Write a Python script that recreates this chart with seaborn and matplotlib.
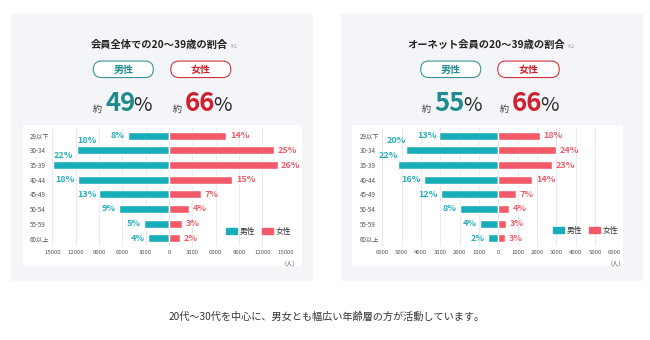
import matplotlib
matplotlib.use("Agg")
import matplotlib.pyplot as plt
from matplotlib.patches import FancyBboxPatch, Rectangle, Patch
import numpy as np
import pandas as pd
import seaborn as sns

# ---- data -------------------------------------------------------------
age_groups = ["29以下", "30-34", "35-39", "40-44", "45-49", "50-54", "55-59", "60以上"]
sexes = ["男性", "女性"]

# 会員全体（人）
all_men = [5300, 11850, 14850, 11750, 8950, 6450, 3200, 2700]
all_women = [7350, 13550, 13950, 8150, 4150, 2600, 1650, 1400]
all_men_pct = [8, 18, 22, 18, 13, 9, 5, 4]
all_women_pct = [14, 25, 26, 15, 7, 4, 3, 2]
all_share = [49, 66]

# オーネット会員（人）
onet_men = [3050, 4780, 5170, 3850, 2950, 1980, 950, 520]
onet_women = [2150, 2970, 2800, 1760, 930, 560, 400, 350]
onet_men_pct = [13, 20, 22, 16, 12, 8, 4, 2]
onet_women_pct = [18, 24, 23, 14, 7, 4, 3, 3]
onet_share = [55, 66]

# rows whose male label sits above the bar
label_lift = [False, True, True, False, False, False, False, False]

# ---- style ------------------------------------------------------------
W, H = 650, 340
TEAL = "#17adb9"
RED = "#f25a69"
TEAL_TXT = "#25b0bc"
RED_TXT = "#ec5f6b"
TEAL_BIG = "#1f8b8e"
RED_BIG = "#d11f2d"
PANEL_BG = "#f4f5f9"
GRID = "#e6e6e9"

sns.set_theme(style="white")
plt.rcParams["font.family"] = ["Noto Sans CJK JP", "DejaVu Sans"]

fig = plt.figure(figsize=(W / 100, H / 100), dpi=100)
fig.patch.set_facecolor("white")

# pixel-space canvas for backgrounds and headings
bg = fig.add_axes([0, 0, 1, 1], zorder=0)
bg.set_xlim(0, W)
bg.set_ylim(H, 0)
bg.axis("off")
renderer = fig.canvas.get_renderer()


def text_right(t):
    return t.get_window_extent(renderer=renderer).x1


def draw_panel(cfg):
    # panel and chart backgrounds
    x0, y0, x1, y1 = cfg["panel"]
    bg.add_patch(Rectangle((x0, y0), x1 - x0, y1 - y0, color=PANEL_BG, lw=0))
    x0, y0, x1, y1 = cfg["white"]
    bg.add_patch(Rectangle((x0, y0), x1 - x0, y1 - y0, color="white", lw=0))

    # heading
    t = bg.text(cfg["title_x"], 45, cfg["title"], ha="center", va="center",
                fontsize=7.4, fontweight="bold", color="#222222")
    bg.text(text_right(t) + 1.5, 46.5, cfg["note"], ha="left", va="center",
            fontsize=3.8, color="#9a9a9a")

    # pills
    for (cx, w), label, col in zip(cfg["pills"], sexes, ["#3a9698", "#cf3340"]):
        ph = 16.5
        bg.add_patch(FancyBboxPatch((cx - w / 2, 69.3 - ph / 2), w, ph,
                                    boxstyle=f"round,pad=0,rounding_size={ph / 2}",
                                    fc="white", ec=col, lw=0.8))
        bg.text(cx, 69.6, label, ha="center", va="center", fontsize=7.2,
                fontweight="bold", color=TEAL_BIG if label == "男性" else RED_BIG)

    # big shares
    for nx, val, col in zip(cfg["num_x"], cfg["share"], [TEAL_BIG, RED_BIG]):
        n = bg.text(nx, 111, f"{val}", ha="left", va="baseline", fontsize=18.5,
                    fontweight="bold", color=col)
        bg.text(nx - 3, 111.5, "約", ha="right", va="baseline", fontsize=6.5,
                color="#333333")
        bg.text(text_right(n) - 1.5, 111, "%", ha="left", va="baseline",
                fontsize=14.5, color="#2a2a2a")

    # chart axes
    l, t_, r, b = cfg["axes"]
    ax = fig.add_axes([l / W, 1 - b / H, (r - l) / W, (b - t_) / H], zorder=2)
    ax.set_facecolor("none")
    df = pd.DataFrame({
        "age": age_groups * 2,
        "sex": [sexes[0]] * len(age_groups) + [sexes[1]] * len(age_groups),
        "count": [-v for v in cfg["men"]] + list(cfg["women"]),
    })
    sns.barplot(data=df, x="count", y="age", hue="sex", order=age_groups,
                hue_order=sexes, palette={"男性": TEAL, "女性": RED},
                dodge=False, width=0.53, saturation=1, legend=False,
                orient="h", ax=ax)
    lim, step = cfg["limit"], cfg["step"]
    ax.set_xlim(-lim, lim)
    ax.set_ylim(len(age_groups) - 0.5, -0.5)
    ticks = np.arange(-lim, lim + 1, step)
    ax.set_xticks(ticks)
    ax.set_xticklabels([f"{abs(int(v))}" for v in ticks])
    ax.set_axisbelow(True)
    ax.xaxis.grid(True, color=GRID, lw=0.6)
    ax.yaxis.grid(False)
    sns.despine(ax=ax, left=True, bottom=True)
    ax.set_xlabel("")
    ax.set_ylabel("")
    ax.tick_params(axis="x", length=0, pad=3.2, labelsize=4.3, colors="#555555")
    ax.tick_params(axis="y", length=0, pad=cfg["ypad"], labelsize=4.5,
                   colors="#555555")
    for lab in ax.get_yticklabels():
        lab.set_ha("left")

    # value labels
    for i, (m, w, pm, pw, up) in enumerate(zip(cfg["men"], cfg["women"],
                                                cfg["men_pct"], cfg["women_pct"],
                                                label_lift)):
        if up:
            ax.annotate(f"{pm}%", (-m, i), xytext=(0, 6.8),
                        textcoords="offset points", ha=cfg["lift_ha"],
                        va="center", fontsize=6.5, fontweight="bold",
                        color=TEAL_TXT)
        else:
            ax.annotate(f"{pm}%", (-m, i), xytext=(-2.3, 0),
                        textcoords="offset points", ha="right", va="center",
                        fontsize=6.5, fontweight="bold", color=TEAL_TXT)
        ax.annotate(f"{pw}%", (w, i), xytext=(2.6, 0),
                    textcoords="offset points", ha="left", va="center",
                    fontsize=6.5, fontweight="bold", color=RED_TXT)

    # legend
    ax.legend(handles=[Patch(color=TEAL, label="男性"), Patch(color=RED, label="女性")],
              ncol=2, loc="center right",
              bbox_to_anchor=(cfg["legend"][0] / W, 1 - cfg["legend"][1] / H),
              bbox_transform=fig.transFigure, frameon=False, fontsize=5.6,
              handlelength=1.45, handleheight=0.75, handletextpad=0.3,
              columnspacing=0.85, borderpad=0, borderaxespad=0,
              labelcolor="#333333")

    bg.text(cfg["unit_x"], 263.5, "（人）", ha="center", va="center",
            fontsize=4.4, color="#555555")


panels = [
    dict(panel=(10.7, 14, 313.3, 280.5), white=(23.3, 125, 301.7, 266),
         title="会員全体での20〜39歳の割合", note="※1", title_x=159,
         pills=[(123.3, 60), (200.8, 60)], num_x=[105, 184.3], share=all_share,
         axes=(52.3, 128.4, 285.7, 245.6), men=all_men, women=all_women,
         men_pct=all_men_pct, women_pct=all_women_pct, limit=15000, step=3000,
         ypad=16.5, lift_ha="left", legend=(291, 231.5), unit_x=290),
    dict(panel=(340.7, 14, 643.3, 280.5), white=(352, 125, 623, 266),
         title="オーネット会員の20〜39歳の割合", note="※2", title_x=486,
         pills=[(450.7, 60), (528.5, 61.5)], num_x=[434, 511.5], share=onet_share,
         axes=(382.3, 128.4, 614.3, 245.6), men=onet_men, women=onet_women,
         men_pct=onet_men_pct, women_pct=onet_women_pct, limit=6000, step=1000,
         ypad=16, lift_ha="right", legend=(618, 231), unit_x=616),
]

for cfg in panels:
    draw_panel(cfg)

bg.text(327, 316.7, "20代〜30代を中心に、男女とも幅広い年齢層の方が活動しています。",
        ha="center", va="center", fontsize=7.3, color="#333333")

fig.savefig("out.png", dpi=100, facecolor="white")
